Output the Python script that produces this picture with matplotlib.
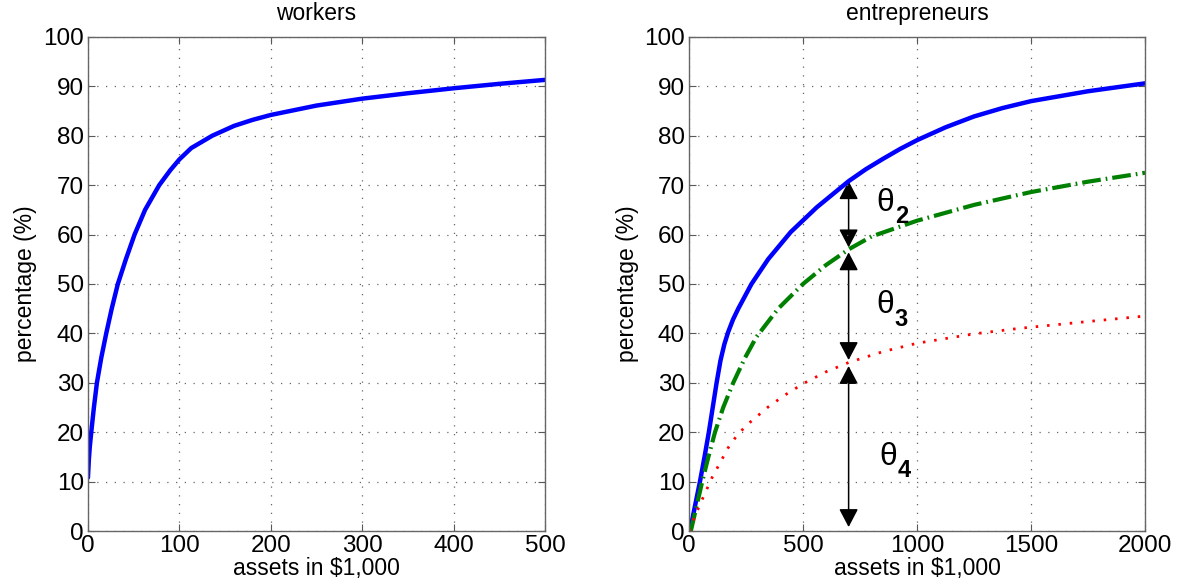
import numpy as np
import matplotlib.pyplot as plt
from matplotlib.patches import FancyArrowPatch

plt.rcParams['font.family'] = ['Liberation Sans', 'DejaVu Sans']

# workers: share of wealth held below asset level
workers_x = [0, 1, 2, 3.6, 6.5, 9.8, 14.5, 20, 26, 32.7, 41.5, 51, 62.5, 78,
             90, 100, 113, 136, 160, 180, 200, 250, 300, 350, 400, 450, 500]
workers_y = [10.8, 14.5, 17, 20, 25, 30, 35, 40, 45, 50, 55, 60, 65, 70,
             73, 75.2, 77.5, 80, 82, 83.2, 84.2, 86.1, 87.5, 88.6, 89.6,
             90.5, 91.3]

# entrepreneurs, three curves
ent1_x = [4, 26, 48, 68, 87, 104, 121, 138, 155, 172, 193, 216, 274, 347,
          446, 560, 700, 775, 850, 925, 1000, 1125, 1250, 1375, 1500, 1750,
          2000]
ent1_y = [0, 5, 10, 15, 20, 25, 30, 34.5, 37.8, 40.3, 42.8, 45, 50, 55,
          60.5, 65.5, 70.8, 73.2, 75.3, 77.3, 79.1, 81.7, 83.9, 85.6, 87,
          89, 90.6]

ent2_x = [8, 33, 58, 85, 114, 150, 194, 245, 296, 391, 500, 600, 700, 800,
          1000, 1250, 1500, 1750, 2000]
ent2_y = [0, 5, 10, 15, 20, 25, 30, 35, 39.3, 45, 50, 53.8, 57, 59.6, 62.8,
          66, 68.6, 70.7, 72.5]

ent3_x = [0, 26, 55, 102, 176, 210, 252, 347, 420, 500, 600, 700, 850,
          1000, 1250, 1446, 1750, 2000]
ent3_y = [0, 3, 6.1, 10.9, 17.2, 19.3, 21.4, 25.1, 27.5, 29.8, 32.2, 34.1,
          36.3, 38, 39.9, 41, 42.4, 43.5]

# gap arrows at x = 700
arrow_x = 700
arrow_spans = [(70.8, 57.4), (56.4, 34.6), (33.4, 0.8)]
theta_labels = ['2', '3', '4']
theta_pos = [(860, 66.4), (860, 45.7), (873, 15.0)]

fig = plt.figure(figsize=(11.79, 5.82), dpi=100)
ax1 = fig.add_axes([0.0746, 0.0876, 0.3876, 0.849])
ax2 = fig.add_axes([0.5844, 0.0876, 0.3868, 0.849])


def style_axes(ax, xmax, xticks):
    ax.set_xlim(0, xmax)
    ax.set_ylim(0, 100)
    ax.set_xticks(xticks)
    ax.set_yticks(np.arange(0, 101, 10))
    ax.grid(True, linestyle=(0, (1, 6)), color='0.4', linewidth=0.9)
    ax.tick_params(direction='in', top=True, right=True, length=5,
                   width=0.8, color='0.35', labelsize=17.5, pad=3)
    for s in ax.spines.values():
        s.set_color('0.4')
        s.set_linewidth(1.0)
    ax.set_xlabel('assets in $1,000', fontsize=16.5, labelpad=0)
    ax.set_ylabel('percentage (%)', fontsize=16.5, labelpad=4)


ax1.plot(workers_x, workers_y, color='blue', linewidth=3.2,
         solid_capstyle='round', solid_joinstyle='round')
style_axes(ax1, 500, [0, 100, 200, 300, 400, 500])
ax1.set_title('workers', fontsize=16.5, pad=12)

ax2.plot(ent1_x, ent1_y, color='blue', linewidth=3.2,
         solid_joinstyle='round')
ax2.plot(ent2_x, ent2_y, color=(0, 0.5, 0), linewidth=3.0,
         linestyle=(0, (4.5, 1.2, 0.4, 1.2)))
ax2.plot(ent3_x, ent3_y, color='red', linewidth=2.0,
         linestyle=(0, (0.9, 3.2)))
style_axes(ax2, 2000, [0, 500, 1000, 1500, 2000])
ax2.set_title('entrepreneurs', fontsize=16.5, pad=12)

for (y0, y1), lab, tp in zip(arrow_spans, theta_labels, theta_pos):
    arr = FancyArrowPatch((arrow_x, y0), (arrow_x, y1),
                          arrowstyle='<|-|>,head_length=0.8,head_width=0.42',
                          mutation_scale=14, color='black', linewidth=1.1,
                          shrinkA=0, shrinkB=0)
    ax2.add_patch(arr)
    # theta with a bold, dropped subscript
    ax2.text(tp[0], tp[1], '\u03b8', fontsize=23, ha='center', va='center')
    ax2.annotate(lab, xy=tp, xytext=(7, -10), textcoords='offset points',
                 fontsize=17, fontweight='bold', ha='left', va='center')

fig.savefig('out.png', dpi=100)
